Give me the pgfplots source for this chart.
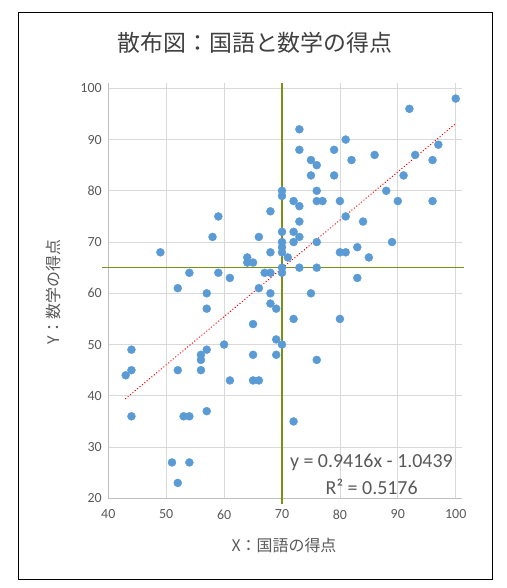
\documentclass[border=0pt]{standalone}
\usepackage{pgfplots}
\pgfplotsset{compat=1.18}
\usepackage{fontspec}
\setmainfont{Carlito}
\newfontfamily\cjk{Noto Sans CJK JP}
\definecolor{ptblue}{HTML}{5B9BD5}
\definecolor{txtgray}{HTML}{595959}
\definecolor{titlegray}{HTML}{404040}
\definecolor{gridgray}{HTML}{D9D9D9}
\definecolor{axgray}{HTML}{BFBFBF}
\definecolor{olivegreen}{RGB}{120,146,20}
\begin{document}
\begin{tikzpicture}[x=1bp,y=1bp]
\path[use as bounding box] (0,0) rectangle (507,588);
\draw[black, line width=0.9bp] (18,9) rectangle (492,576);
\begin{axis}[
  at={(108.3bp,89.7bp)}, anchor=south west,
  scale only axis, width=353.2bp, height=415.1bp,
  xmin=40, xmax=101, ymin=20, ymax=101,
  xtick={40,50,...,100}, ytick={20,30,...,100},
  axis lines=left, axis line style={axgray, line width=0.8bp, -},
  grid=major, major grid style={gridgray, line width=0.8bp},
  tick style={draw=none},
  tick label style={font=\fontsize{14}{16}\selectfont, text=txtgray},
  /pgf/number format/assume math mode=true,
  xticklabel style={yshift=-6bp},
  yticklabel style={xshift=-1bp},
  clip=false,
]
\addplot[draw=olivegreen, line width=1.6bp, mark=none, forget plot] coordinates {(38.9,65.03) (101.5,65.03)};
\addplot[draw=olivegreen, line width=1.1bp, mark=none, forget plot] coordinates {(70,18.8) (70,101)};
\addplot[only marks, mark=*, mark size=4bp, mark options={fill=ptblue, draw=ptblue}] coordinates {
(100,98) (92,96) (73,92) (81,90) (73,88) (79,88) (75,86) (76,85) (82,86) (86,87)
(93,87) (97,89) (96,86) (75,83) (79,83) (91,83) (70,80) (70,79) (76,80) (88,80)
(72,78) (73,77) (76,78) (77,78) (80,78) (90,78) (96,78) (59,75) (68,76) (81,75)
(73,74) (84,74) (70,72) (72,72) (58,71) (66,71) (73,71) (70,70) (72,70) (76,70)
(89,70) (70,69) (49,68) (68,68) (70,68) (80,68) (81,68) (83,69) (64,67) (71,67)
(85,67) (64,66) (65,66) (70,65) (73,65) (76,65) (54,64) (59,64) (67,64) (68,64)
(70,64) (61,63) (83,63) (52,61) (66,61) (57,60) (68,60) (75,60) (68,58) (69,57)
(57,57) (65,54) (72,55) (80,55) (69,51) (70,50) (60,50) (44,49) (57,49) (56,48)
(56,47) (65,48) (69,48) (76,47) (44,45) (43,44) (52,45) (56,45) (61,43) (65,43)
(66,43) (44,36) (53,36) (54,36) (57,37) (72,35) (51,27) (54,27) (52,23)
};
\addplot[red, line width=1.4bp, dash pattern=on 0.1bp off 3bp, line cap=round] coordinates {(43,39.45) (100,93.12)};
\end{axis}
\node[anchor=center, text=titlegray, font=\cjk\fontsize{23}{27}\selectfont] at (255,545) {散布図：国語と数学の得点};
\node[anchor=center, text=txtgray, font=\cjk\fontsize{16}{19}\selectfont] at (284,43) {X：国語の得点};
\node[anchor=center, rotate=90, text=txtgray, font=\cjk\fontsize{16}{19}\selectfont] at (53,296) {Y：数学の得点};
\node[anchor=center, text=txtgray, font=\fontsize{20}{24}\selectfont, inner sep=1bp] at (371.4,125.3) {y = 0.9416x - 1.0439};
\node[anchor=center, text=txtgray, font=\fontsize{20}{24}\selectfont, inner sep=1bp] at (371.7,101.3) {R² = 0.5176};
\end{tikzpicture}
\end{document}
